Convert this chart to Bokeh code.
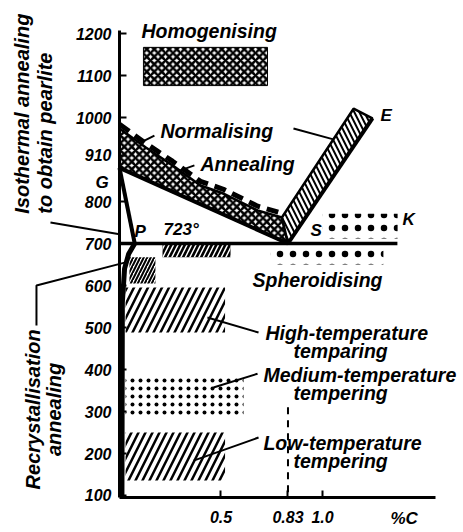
import math
from bokeh.plotting import figure
from bokeh.models import FixedTicker
from bokeh.core.properties import value
from bokeh.embed import file_html
from bokeh.resources import INLINE

FONT = "Liberation Sans"

# ---------------- axes ----------------
y_ticks = [100, 200, 300, 400, 500, 600, 700, 800, 910, 1000, 1100, 1200]
x_ticks = [0.5, 0.83, 1.0]
x_tick_labels = ["0.5", "0.83", "1.0"]
x_axis_end = 1.557
y_axis_bottom = 95
y_axis_top = 1207

# ---------------- Fe-C lines (schematic, as drawn) ----------------
gp_x = [0.0, 0.075]
gp_t = [880, 700]
gs_x = [0.0, 0.83]
gs_t = [880, 700]
psk_x = [0.0, 1.369]
psk_t = [700, 700]
se_x = [0.83, 1.246]
se_t = [700, 998]
pq_x = [0.075, 0.045, 0.025, 0.014, 0.012]
pq_t = [700, 675, 640, 560, 96]
c083_x = [0.83, 0.83]
c083_t = [310, 96]

# ---------------- bands ----------------
band_upper_x = [0.0, 0.128, 0.261, 0.399, 0.512, 0.680, 0.80]
band_upper_t = [974, 929, 886, 838, 819, 779, 762]
norm_dash_x = [0.0, 0.128, 0.261, 0.399, 0.512, 0.680, 0.80]
norm_dash_t = [984, 939, 896, 848, 829, 789, 772]
se_band_x = [0.83, 1.246, 1.153, 0.80]
se_band_t = [700, 998, 1021, 762]

# ---------------- rectangular regions ----------------
reg_name = ["homogenising", "isothermal", "recrystallisation", "high", "medium", "low",
            "spheroid_above", "spheroid_below"]
reg_left = [0.118, 0.212, 0.049, 0.030, 0.030, 0.030, 1.00, 0.744]
reg_right = [0.729, 0.547, 0.177, 0.520, 0.611, 0.520, 1.37, 1.300]
reg_bottom = [1076, 667, 605, 488, 286, 136, 712, 650]
reg_top = [1167, 700, 667, 595, 386, 250, 771, 692]

# ---------------- leader lines ----------------
leader_x = [[-0.340, 0.0], [-0.409, -0.409, 0.03], [0.172, 0.103], [0.857, 1.054],
            [0.369, 0.300], [0.685, 0.433], [0.680, 0.463], [0.685, 0.365]]
leader_t = [[750, 722], [505, 600, 655], [957, 940], [974, 948],
            [886, 874], [488, 524], [390, 357], [238, 183]]

# ---------------- labels ----------------
lab_text = ["Homogenising", "Normalising", "Annealing", "Spheroidising",
            "High-temperature", "temparing", "Medium-temperature", "tempering",
            "Low-temperature", "tempering"]
lab_x = [0.108, 0.202, 0.399, 0.655, 0.719, 0.857, 0.709, 0.857, 0.709, 0.857]
lab_t = [1205, 969, 889, 612, 486, 445, 386, 343, 224, 181]

pt_text = ["723°", "P", "S", "E", "K", "G", "%C"]
pt_x = [0.217, 0.074, 0.941, 1.286, 1.394, -0.118, 1.335]
pt_t = [733, 729, 730, 1005, 756, 846, 45]

side_text = ["Isothermal annealing", "to obtain pearlite"]
side_x = [-0.478, -0.365]
side_t = [771, 771]
side2_text = ["Recrystallisation", "annealing"]
side2_x = [-0.426, -0.325]
side2_t = [305, 305]

# ---------------- figure ----------------
p = figure(width=463, height=532, x_range=(-0.5862, 1.6946), y_range=(11.9, 1278.6),
           output_backend="svg", toolbar_location=None, min_border=0)
p.outline_line_color = None
p.xgrid.visible = False
p.ygrid.visible = False
p.background_fill_color = "white"

xa = p.xaxis[0]
xa.fixed_location = y_axis_bottom
xa.bounds = (0, x_axis_end)
xa.ticker = FixedTicker(ticks=x_ticks)
xa.major_label_overrides = {k: v for k, v in zip(x_ticks, x_tick_labels)}
ya = p.yaxis[0]
ya.fixed_location = 0
ya.bounds = (y_axis_bottom, y_axis_top)
ya.ticker = FixedTicker(ticks=y_ticks)
for ax in (xa, ya):
    ax.axis_line_width = 3
    ax.axis_line_color = "black"
    ax.major_tick_in = 7
    ax.major_tick_out = 0
    ax.major_tick_line_width = 2
    ax.minor_tick_line_color = None
    ax.major_label_text_font = FONT
    ax.major_label_text_font_style = "bold italic"
    ax.major_label_text_font_size = "16px"
    ax.major_label_text_color = "black"
xa.major_label_standoff = 13
ya.major_label_standoff = 8


def region(i, **kw):
    p.quad(left=[reg_left[i]], right=[reg_right[i]], bottom=[reg_bottom[i]],
           top=[reg_top[i]], **kw)


# homogenising
region(0, fill_color="white", line_color="black", line_width=1,
       hatch_pattern="x", hatch_color="black", hatch_weight=2.5, hatch_scale=7.5)
# isothermal strip
region(1, fill_color="black", line_color=None,
       hatch_pattern="/", hatch_color="white", hatch_weight=1.5, hatch_scale=9)
# recrystallisation
region(2, fill_color=None, line_color=None,
       hatch_pattern="/", hatch_color="black", hatch_weight=2, hatch_scale=7)
# high & low tempering
region(3, fill_color=None, line_color=None,
       hatch_pattern="/", hatch_color="black", hatch_weight=2.5, hatch_scale=14)
region(5, fill_color=None, line_color=None,
       hatch_pattern="/", hatch_color="black", hatch_weight=2.5, hatch_scale=14)
# medium tempering dots
region(4, fill_color=None, line_color=None,
       hatch_pattern=".", hatch_color="black", hatch_weight=1, hatch_scale=8)
# spheroidising dots
region(6, fill_color=None, line_color=None,
       hatch_pattern=".", hatch_color="black", hatch_weight=2, hatch_scale=13)
region(7, fill_color=None, line_color=None,
       hatch_pattern=".", hatch_color="black", hatch_weight=2, hatch_scale=13)

# annealing / normalising band along GS
band_x = gs_x + band_upper_x[::-1]
band_t = gs_t + band_upper_t[::-1]
p.patch(band_x, band_t, fill_color="white", line_color="black", line_width=2.5,
        hatch_pattern="x", hatch_color="black", hatch_weight=2.5, hatch_scale=7.5)
p.line(norm_dash_x, norm_dash_t, line_color="black", line_width=5, line_dash="12 7")
# band along SE
p.patch(se_band_x, se_band_t, fill_color="white", line_color="black", line_width=2.5,
        hatch_pattern="\\", hatch_color="black", hatch_weight=2, hatch_scale=10)

# phase lines
p.line(gs_x, gs_t, line_color="black", line_width=4)
p.line(gp_x, gp_t, line_color="black", line_width=4)
p.line(psk_x, psk_t, line_color="black", line_width=3.5)
p.line(se_x, se_t, line_color="black", line_width=4)
p.line(pq_x, pq_t, line_color="black", line_width=5)
p.line(c083_x, c083_t, line_color="black", line_width=2, line_dash="7 6")

p.multi_line(leader_x, leader_t, line_color="black", line_width=2)

common = dict(text_font=value(FONT), text_font_style="bold italic", text_color="black")
p.text(lab_x, lab_t, text=lab_text, text_font_size="19.5px", text_align="left",
       text_baseline="middle", **common)
p.text(pt_x, pt_t, text=pt_text, text_font_size="17px", text_align="left",
       text_baseline="middle", **common)
p.text(side_x, side_t, text=side_text, text_font_size="20px", text_align="left",
       text_baseline="middle", angle=math.pi / 2, **common)
p.text(side2_x, side2_t, text=side2_text, text_font_size="20px", text_align="center",
       text_baseline="middle", angle=math.pi / 2, **common)

open("out.html", "w").write(file_html(p, INLINE))
